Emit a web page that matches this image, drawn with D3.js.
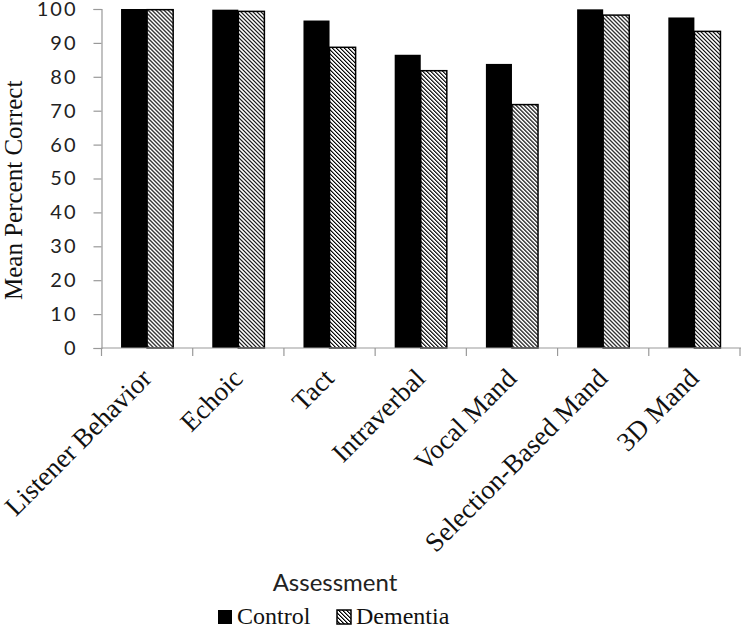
<!DOCTYPE html>
<html>
<head>
<meta charset="utf-8">
<script src="https://cdn.jsdelivr.net/npm/d3@7"></script>
<style>
  html, body { margin: 0; padding: 0; background: #fff; }
  svg { display: block; }
</style>
</head>
<body>
<svg id="chart" width="741" height="628"></svg>
<script>
const categories = ["Listener Behavior", "Echoic", "Tact", "Intraverbal", "Vocal Mand", "Selection-Based Mand", "3D Mand"];
const seriesNames = ["Control", "Dementia"];
const controlValues = [100, 99.8, 96.6, 86.5, 83.8, 99.9, 97.5];
const dementiaValues = [99.8, 99.3, 88.7, 81.8, 71.8, 98.2, 93.4];
const yTicks = [0, 10, 20, 30, 40, 50, 60, 70, 80, 90, 100];
const yTitle = "Mean Percent Correct";
const xTitle = "Assessment";

(function () {
const svg = d3.select("#chart");
const defs = svg.append("defs");
const pat = defs.append("pattern")
  .attr("id", "hatch")
  .attr("patternUnits", "userSpaceOnUse")
  .attr("width", 4).attr("height", 4);
pat.append("rect").attr("width", 4).attr("height", 4).attr("fill", "#fff");
[0, 1, 2, 3].forEach(i => {
  pat.append("rect").attr("x", i).attr("y", i).attr("width", 1).attr("height", 1)
    .attr("fill", "#000").attr("shape-rendering", "crispEdges");
  pat.append("rect").attr("x", (i + 1) % 4).attr("y", i).attr("width", 1).attr("height", 1)
    .attr("fill", "#777").attr("shape-rendering", "crispEdges");
});

const mLeft = 101.5, mRight = 740, mTop = 9, mBottom = 348;
const x0 = d3.scaleBand().domain(categories).range([mLeft, mRight]).padding(0);
const x1 = d3.scaleBand().domain(seriesNames).range([0, x0.bandwidth()]).paddingInner(0).paddingOuter(0.75);
const y = d3.scaleLinear().domain([0, 100]).range([mBottom, mTop]);

const data = categories.map((c, i) => ({ cat: c, vals: [
  { s: "Control", v: controlValues[i] },
  { s: "Dementia", v: dementiaValues[i] }
]}));

// bars
const g = svg.append("g");
const groups = g.selectAll("g.grp").data(data).join("g")
  .attr("transform", d => `translate(${x0(d.cat)},0)`);
groups.selectAll("rect").data(d => d.vals).join("rect")
  .attr("x", d => x1(d.s))
  .attr("y", d => y(d.v))
  .attr("width", x1.bandwidth())
  .attr("height", d => y(0) - y(d.v))
  .attr("fill", d => d.s === "Control" ? "#000" : "url(#hatch)")
  .attr("stroke", d => d.s === "Control" ? "none" : "#000")
  .attr("stroke-width", 1.5);

// y axis
const yAxis = d3.axisLeft(y).tickValues(yTicks).tickSize(8).tickPadding(16);
const yg = svg.append("g").attr("transform", `translate(${mLeft},0)`).call(yAxis);
yg.select(".domain").attr("stroke", "#999").attr("stroke-width", 1.2);
yg.selectAll(".tick line").attr("stroke", "#999").attr("stroke-width", 1.2);
yg.selectAll(".tick text")
  .attr("font-family", "Lato, 'Open Sans', sans-serif")
  .attr("font-size", 20).attr("letter-spacing", 2).attr("fill", "#222");

// x axis
const xBoundaries = categories.map(c => x0(c)).concat([x0.range()[1]]);
const xg = svg.append("g");
xg.append("line").attr("x1", mLeft).attr("x2", mRight + 1).attr("y1", mBottom).attr("y2", mBottom)
  .attr("stroke", "#999").attr("stroke-width", 1.2);
xg.selectAll("line.tk").data(xBoundaries).join("line").attr("class", "tk")
  .attr("x1", d => d).attr("x2", d => d).attr("y1", mBottom).attr("y2", mBottom + 8)
  .attr("stroke", "#999").attr("stroke-width", 1.2);
xg.selectAll("text.lab").data(categories).join("text").attr("class", "lab")
  .attr("transform", d => `translate(${x0(d) + x0.bandwidth() / 2 + 6},${mBottom + 32}) rotate(-45)`)
  .attr("text-anchor", "end")
  .attr("font-family", "'Liberation Serif', 'Times New Roman', serif")
  .attr("font-size", 27).attr("fill", "#111")
  .text(d => d);

// y title
svg.append("text")
  .attr("transform", `translate(22,300) rotate(-90)`)
  .attr("text-anchor", "start")
  .attr("font-family", "'Liberation Serif', 'Times New Roman', serif")
  .attr("font-size", 25).attr("fill", "#111")
  .text(yTitle);

// x title
svg.append("text")
  .attr("x", 335).attr("y", 591)
  .attr("text-anchor", "middle")
  .attr("font-family", "Lato, 'Open Sans', sans-serif")
  .attr("font-size", 24).attr("fill", "#222")
  .text(xTitle);

// legend
const legend = svg.append("g");
const legX = [218, 337];
seriesNames.forEach((s, i) => {
  legend.append("rect")
    .attr("x", legX[i]).attr("y", 610).attr("width", 14).attr("height", 14)
    .attr("fill", s === "Control" ? "#000" : "url(#hatch)")
    .attr("stroke", s === "Control" ? "none" : "#000").attr("stroke-width", 1.5);
  legend.append("text")
    .attr("x", legX[i] + 19).attr("y", 624)
    .attr("font-family", "'Liberation Serif', 'Times New Roman', serif")
    .attr("font-size", 24).attr("fill", "#111")
    .text(s);
});
})();
</script>
</body>
</html>
